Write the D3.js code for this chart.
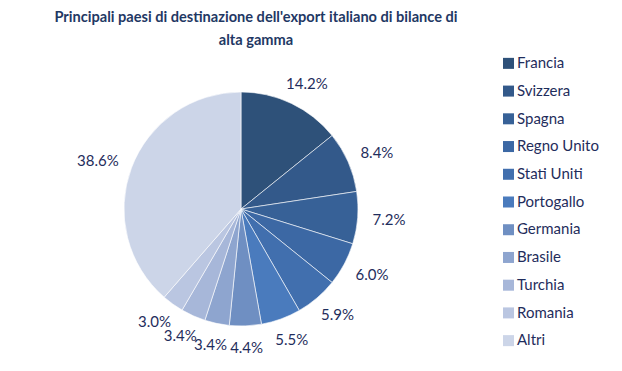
<!DOCTYPE html>
<html>
<head>
<meta charset="utf-8">
<script src="https://cdn.jsdelivr.net/npm/d3@7"></script>
<style>
  body { margin: 0; background: #fff; }
  svg { font-family: Lato, "Open Sans", sans-serif; }
</style>
</head>
<body>
<svg id="chart" width="622" height="371"></svg>
<script>
'use strict';
// Data
const countries = ['Francia', 'Svizzera', 'Spagna', 'Regno Unito', 'Stati Uniti',
    'Portogallo', 'Germania', 'Brasile', 'Turchia', 'Romania', 'Altri'];
const shares = [14.2, 8.4, 7.2, 6.0, 5.9, 5.5, 4.4, 3.4, 3.4, 3.0, 38.6];
const sliceColors = ['#2e5179', '#33598a', '#376197', '#3c68a4', '#416fae',
    '#4a7bbd', '#6f8fc2', '#8ea5cf', '#a7b7d9', '#bac6e1', '#ccd5e8'];
const titleLines = ["Principali paesi di destinazione dell'export italiano di bilance di", 'alta gamma'];

const svg = d3.select('#chart');
const center = { x: 241, y: 209 };
const radius = 117;
const textColor = '#1f2d5c';

// Title
svg.append('g')
    .selectAll('text')
    .data(titleLines)
    .enter()
    .append('text')
    .attr('x', 256)
    .attr('y', (d, i) => 22 + i * 23)
    .attr('text-anchor', 'middle')
    .attr('font-size', 14.6)
    .attr('font-weight', 'bold')
    .attr('fill', '#1f3864')
    .text(d => d);

const data = countries.map((c, i) => ({ country: c, value: shares[i] }));

const color = d3.scaleOrdinal().domain(countries).range(sliceColors);

const pie = d3.pie()
    .sort(null)
    .value(d => d.value);

const arc = d3.arc()
    .innerRadius(0)
    .outerRadius(radius);

const arcs = pie(data);

const pieGroup = svg.append('g')
    .attr('transform', 'translate(' + center.x + ',' + center.y + ')');

pieGroup.selectAll('path')
    .data(arcs)
    .enter()
    .append('path')
    .attr('d', arc)
    .attr('fill', d => color(d.data.country))
    .attr('stroke', '#fff')
    .attr('stroke-width', 0.6);

// Labels outside the pie, pushed away by half their box along the mid angle
const labelPad = 15;
const labelHeight = 14;
const labels = pieGroup.selectAll('text')
    .data(arcs)
    .enter()
    .append('text')
    .attr('text-anchor', 'middle')
    .attr('dy', '0.35em')
    .attr('font-size', 15)
    .attr('fill', textColor)
    .text(d => d.data.value.toFixed(1) + '%');

labels.each(function (d) {
    const w = this.getComputedTextLength();
    const a = (d.startAngle + d.endAngle) / 2;
    const r = radius + labelPad;
    const x = Math.sin(a) * r + Math.sin(a) * w / 2;
    const y = -Math.cos(a) * r - Math.cos(a) * labelHeight / 2;
    d3.select(this).attr('x', x).attr('y', y);
});

// Legend
const legendY = d3.scaleBand()
    .domain(countries)
    .range([49, 354]);

const legend = svg.append('g')
    .attr('transform', 'translate(503,0)');

const items = legend.selectAll('g')
    .data(countries)
    .enter()
    .append('g')
    .attr('transform', d => 'translate(0,' + (legendY(d) + legendY.bandwidth() / 2) + ')');

items.append('rect')
    .attr('x', 0)
    .attr('y', -5)
    .attr('width', 11)
    .attr('height', 11)
    .attr('fill', d => color(d));

items.append('text')
    .attr('x', 14)
    .attr('dy', '0.35em')
    .attr('font-size', 15)
    .attr('fill', textColor)
    .text(d => d);
</script>
</body>
</html>
